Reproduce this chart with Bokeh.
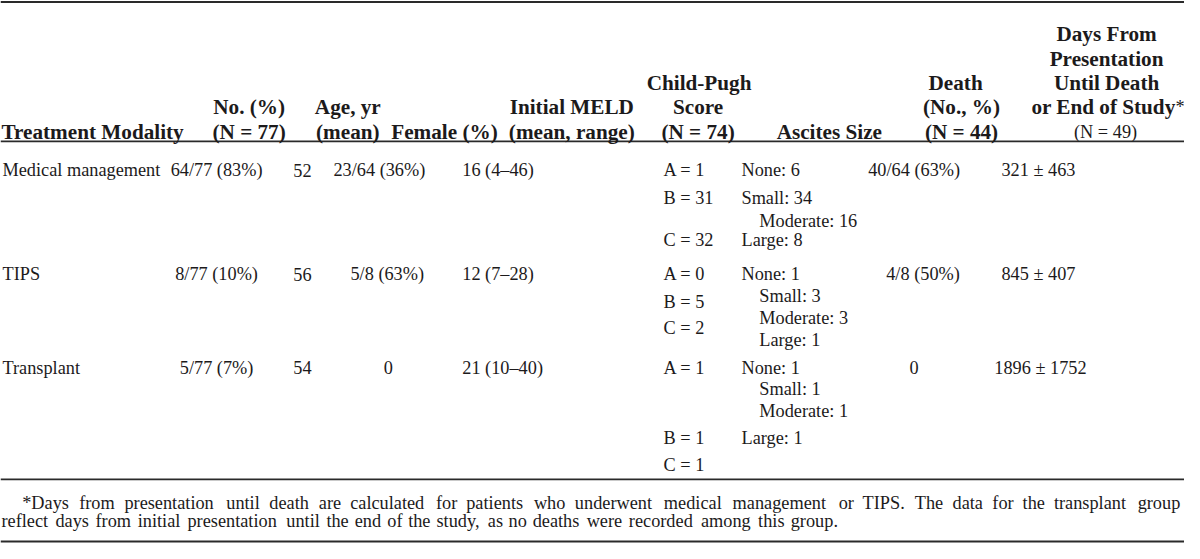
from bokeh.plotting import figure
from bokeh.models import Range1d
from bokeh.embed import file_html
from bokeh.resources import INLINE
from bokeh.core.properties import value

# ---------------- data ----------------
modalities = ["Medical management", "TIPS", "Transplant"]
n_pct = ["64/77 (83%)", "8/77 (10%)", "5/77 (7%)"]
age_mean = ["52", "56", "54"]
female = ["23/64 (36%)", "5/8 (63%)", "0"]
meld = ["16 (4\u201346)", "12 (7\u201328)", "21 (10\u201340)"]
child_pugh = [["A = 1", "B = 31", "C = 32"],
              ["A = 0", "B = 5", "C = 2"],
              ["A = 1", "B = 1", "C = 1"]]
ascites = [["None: 6", "Small: 34", "Moderate: 16", "Large: 8"],
           ["None: 1", "Small: 3", "Moderate: 3", "Large: 1"],
           ["None: 1", "Small: 1", "Moderate: 1", "Large: 1"]]
death = ["40/64 (63%)", "4/8 (50%)", "0"]
days = ["321 \u00b1 463", "845 \u00b1 407", "1896 \u00b1 1752"]

header_treat = ["Treatment Modality"]
header_n = ["No. (%)", "(N = 77)"]
header_age = ["Age, yr", "(mean)"]
header_female = ["Female (%)"]
header_meld = ["Initial MELD", "(mean, range)"]
header_cp = ["Child-Pugh", "Score", "(N = 74)"]
header_asc = ["Ascites Size"]
header_death = ["Death", "(No., %)", "(N = 44)"]
header_days = ["Days From", "Presentation", "Until Death", "or End of Study"]
header_days_n = "(N = 49)"

footnote_line1 = ("*Days from presentation until death are calculated for patients who "
                  "underwent medical management or TIPS. The data for the transplant group")
footnote_line2 = ("reflect days from initial presentation until the end of the study, "
                  "as no deaths were recorded among this group.")

# ---------------- layout ----------------
W_REF, H_REF = 1200, 559
FIG_W, FIG_H = 1184, 543
S = FIG_W / W_REF
FONT = "Liberation Serif"
INK = "#1c1a1b"
RULE = "#2a2a2a"


def fs(v):
    return f"{v * S:.1f}px"


p = figure(width=FIG_W, height=FIG_H, output_backend="svg", toolbar_location=None,
           x_range=Range1d(0, W_REF), y_range=Range1d(H_REF, 0),
           x_axis_type=None, y_axis_type=None, min_border=0)
p.grid.visible = False
p.outline_line_color = None
p.background_fill_color = "white"
p.border_fill_color = "white"


def put(txt, x, y, align="center", bold=False, size=18.0):
    p.text(x=[x], y=[y], text=[txt], text_font=value(FONT),
           text_font_size=fs(size), text_font_style="bold" if bold else "normal",
           text_align=align, text_baseline="alphabetic", text_color=INK)


# rules
for yy, lw in [(1.5, 2.0), (145.0, 1.6), (493.0, 1.6), (557.0, 2.0)]:
    p.segment(x0=[0], y0=[yy], x1=[W_REF], y1=[yy], line_color=RULE, line_width=lw)

# header
HB = 21.5
RS = 18.5
hdr_base = [35, 60, 85, 110, 135]
put(header_treat[0], 1, 135, "left", True, HB)
for t, yy in zip(header_n, [110, 135]):
    put(t, 252, yy, "center", True, HB)
for t, yy in zip(header_age, [110, 135]):
    put(t, 352, yy, "center", True, HB)
put(header_female[0], 450, 135, "center", True, HB)
for t, yy in zip(header_meld, [110, 135]):
    put(t, 579, yy, "center", True, HB)
for t, yy, xx in zip(header_cp, [85, 110, 135], [708, 707, 707]):
    put(t, xx, yy, "center", True, HB)
put(header_asc[0], 840, 135, "center", True, HB)
for t, yy, xx in zip(header_death, [85, 110, 135], [968, 974, 974]):
    put(t, xx, yy, "center", True, HB)
for t, yy in zip(header_days[:3], hdr_base[:3]):
    put(t, 1121, yy, "center", True, HB)
put(header_days[3], 1191, 110, "right", True, HB)
put("*", 1191, 110, "left", False, RS)
put(header_days_n, 1120, 135, "center", False, RS)

# body
BS = 18.5
row_base = [175, 282, 378]
n_x = 219
age_x = 306
female_x = [384, 392, 393]
meld_x = 468
cp_x = 672
cp_y = [[175, 203, 247], [282, 310, 337], [378, 450, 478]]
asc_y = [[175, 203, 227, 247], [282, 304, 327, 350], [378, 400, 423, 450]]
asc_indent = [[0, 0, 1, 0], [0, 1, 1, 1], [0, 1, 1, 0]]
asc_x = [751, 769]
death_x = [926, 935, 926]
days_x = [1052, 1052, 1054]

for i in range(3):
    yb = row_base[i]
    put(modalities[i], 2, yb, "left", False, BS)
    put(n_pct[i], n_x, yb, "center", False, BS)
    put(age_mean[i], age_x, yb, "center", False, BS)
    put(female[i], female_x[i], yb, "center", False, BS)
    put(meld[i], meld_x, yb, "left", False, BS)
    for t, yy in zip(child_pugh[i], cp_y[i]):
        put(t, cp_x, yy, "left", False, BS)
    for t, yy, ind in zip(ascites[i], asc_y[i], asc_indent[i]):
        put(t, asc_x[ind], yy, "left", False, BS)
    put(death[i], death_x[i], yb, "center", False, BS)
    put(days[i], days_x[i], yb, "center", False, BS)

# footnote (justified first line, word by word)
TW = {" ": 250, "*": 500, ".": 250, ",": 250,
      "a": 444, "b": 500, "c": 444, "d": 500, "e": 444, "f": 333, "g": 500, "h": 500,
      "i": 278, "j": 278, "k": 500, "l": 278, "m": 778, "n": 500, "o": 500, "p": 500,
      "q": 500, "r": 333, "s": 389, "t": 278, "u": 500, "v": 500, "w": 722, "x": 500,
      "y": 500, "z": 444, "D": 722, "T": 611, "I": 333, "P": 556, "S": 556}


def tw(s, size):
    return sum(TW.get(c, 500) for c in s) * size / 1000.0


FOOT_FS = 18.5
LAY_FS = 19.5
w1 = footnote_line1.split()
tot = sum(tw(w, LAY_FS) for w in w1)
gap = (1198 - 22 - tot) / (len(w1) - 1)
xx = 22.0
xs1 = []
for w in w1:
    xs1.append(xx)
    xx += tw(w, LAY_FS) + gap
p.text(x=xs1, y=[517] * len(w1), text=w1, text_font=value(FONT), text_font_size=fs(FOOT_FS),
       text_align="left", text_baseline="alphabetic", text_color=INK)

w2 = footnote_line2.split()
xx = 1.0
xs2 = []
for w in w2:
    xs2.append(xx)
    xx += tw(w, LAY_FS) + tw(" ", LAY_FS)
p.text(x=xs2, y=[536] * len(w2), text=w2, text_font=value(FONT), text_font_size=fs(FOOT_FS),
       text_align="left", text_baseline="alphabetic", text_color=INK)

open("out.html", "w").write(file_html(p, INLINE))
